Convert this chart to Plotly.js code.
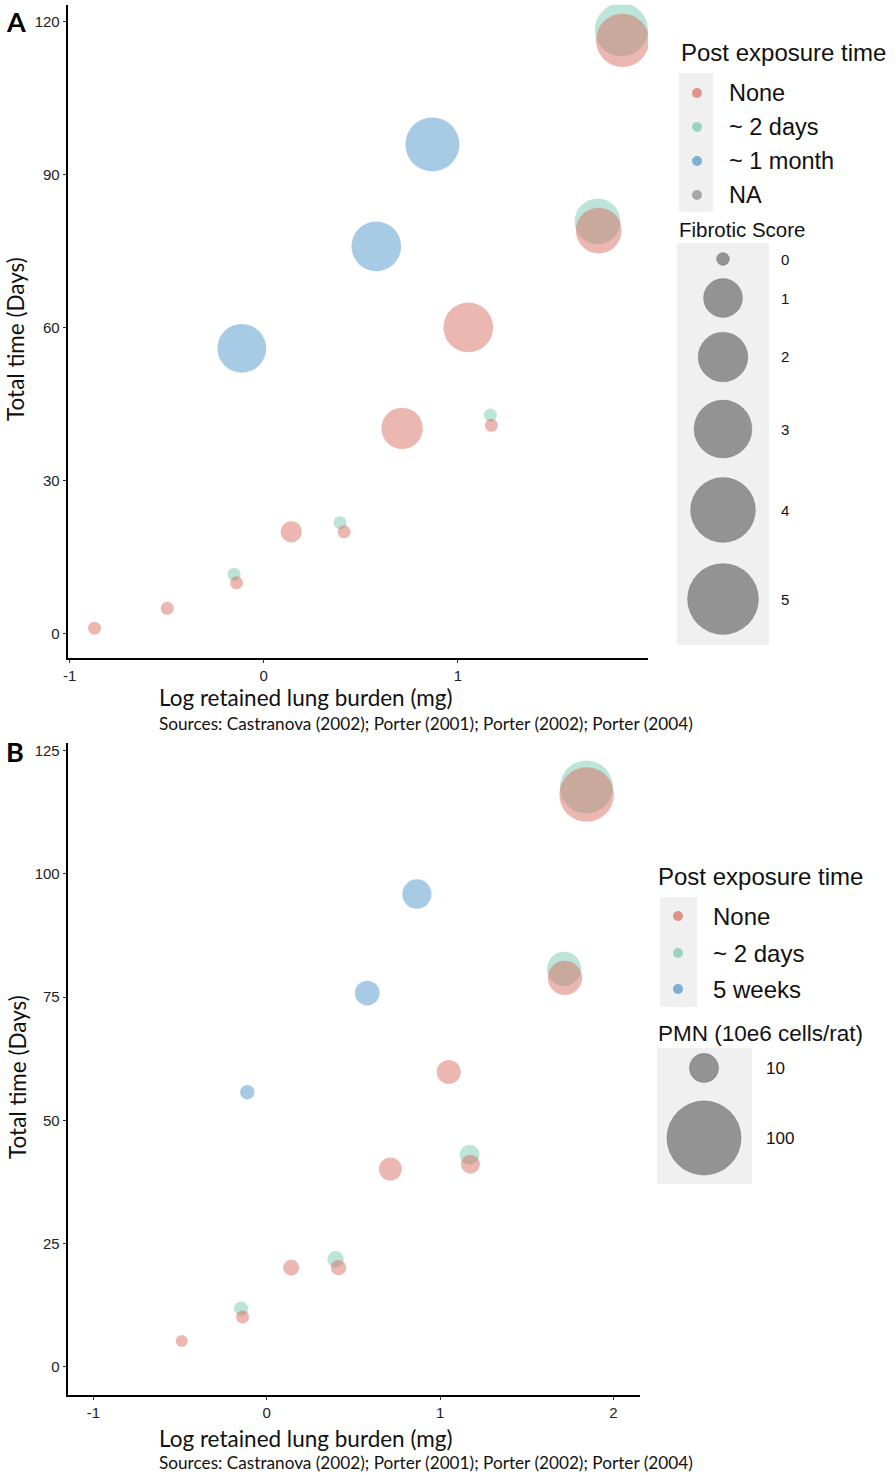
<!DOCTYPE html>
<html>
<head>
<meta charset="utf-8">
<script src="https://cdn.plot.ly/plotly-3.0.1.min.js"></script>
<style>html,body{margin:0;padding:0;background:#fff;}#chart{width:896px;height:1475px;}</style>
</head>
<body>
<div id="chart"></div>
<script>
// ---------- Data ----------
// Panel A: fibrotic score
const catsA = ["None", "~ 2 days", "~ 1 month", "NA"];
const noneA_x = [-0.872, -0.497, -0.14, 0.142, 0.414, 0.713, 1.173, 1.054, 1.726, 1.849];
const noneA_y = [1.0, 4.9, 9.9, 19.9, 19.9, 40.2, 40.8, 60.0, 79.0, 116.3];
const noneA_score = [0, 0, 0, 0.1, 0, 1.2, 0, 2.0, 1.6, 2.4];
const twoDaysA_x = [-0.153, 0.393, 1.168, 1.72, 1.843];
const twoDaysA_y = [11.6, 21.7, 42.8, 80.8, 118.4];
const twoDaysA_score = [0, 0, 0, 1.6, 2.4];
const monthA_x = [-0.113, 0.58, 0.869];
const monthA_y = [55.9, 75.9, 95.9];
const monthA_score = [1.9, 2.0, 2.5];
const fibBreaks = [0, 1, 2, 3, 4, 5];

// Panel B: PMN (10e6 cells/rat)
const catsB = ["None", "~ 2 days", "5 weeks"];
const noneB_x = [-0.49, -0.139, 0.141, 0.414, 0.713, 1.175, 1.05, 1.72, 1.845];
const noneB_y = [5.2, 10.1, 20.1, 20.1, 40.1, 41.1, 59.8, 78.9, 116.1];
const noneB_pmn = [0.28, 0.49, 1.3, 1.07, 4.86, 2.55, 5.55, 15.4, 48.9];
const twoDaysB_x = [-0.148, 0.397, 1.17, 1.715, 1.844];
const twoDaysB_y = [11.8, 21.8, 43.0, 80.7, 117.6];
const twoDaysB_pmn = [0.78, 1.48, 3.05, 15.3, 45.7];
const weeksB_x = [-0.112, 0.58, 0.866];
const weeksB_y = [55.7, 75.8, 95.9];
const weeksB_pmn = [0.83, 6.06, 10.0];
const pmnBreaks = [10, 100];

const ticksAx = [-1, 0, 1];
const ticksAy = [0, 30, 60, 90, 120];
const ticksBx = [-1, 0, 1, 2];
const ticksBy = [0, 25, 50, 75, 100, 125];

const xTitle = "Log retained lung burden (mg)";
const yTitle = "Total time (Days)";
const caption = "Sources: Castranova (2002); Porter (2001); Porter (2002); Porter (2004)";

// ---------- Styles / scales ----------
const W = 896, H = 1475;
const COL = {
  "None": "rgba(214,104,88,0.68)",
  "~ 2 days": "rgba(102,194,165,0.62)",
  "~ 1 month": "rgba(72,146,200,0.68)",
  "5 weeks": "rgba(72,146,200,0.68)",
  "NA": "rgba(127,127,127,0.65)"
};
const NARROW = '"Liberation Sans Narrow", "Arial Narrow", "Liberation Sans", sans-serif';
const CAL = 'Lato, "Open Sans", sans-serif';
const ARIAL = '"Liberation Sans", Arial, sans-serif';

const fibSize = s => 13 + 58 * Math.sqrt(s / 5);
const pmnSize = v => 8.5 + 6.58 * Math.sqrt(v);

const px = x => x / W;
const py = y => 1 - y / H;

function pts(x, y, sizes, color, xa, ya) {
  return {
    type: "scatter", mode: "markers", x: x, y: y, xaxis: xa, yaxis: ya,
    marker: { size: sizes, sizemode: "diameter", color: color, line: { width: 0 } },
    showlegend: false, hoverinfo: "x+y"
  };
}

const traces = [
  pts(twoDaysA_x, twoDaysA_y, twoDaysA_score.map(fibSize), COL["~ 2 days"], "x", "y"),
  pts(monthA_x, monthA_y, monthA_score.map(fibSize), COL["~ 1 month"], "x", "y"),
  pts(noneA_x, noneA_y, noneA_score.map(fibSize), COL["None"], "x", "y"),
  pts(twoDaysB_x, twoDaysB_y, twoDaysB_pmn.map(pmnSize), COL["~ 2 days"], "x2", "y2"),
  pts(weeksB_x, weeksB_y, weeksB_pmn.map(pmnSize), COL["5 weeks"], "x2", "y2"),
  pts(noneB_x, noneB_y, noneB_pmn.map(pmnSize), COL["None"], "x2", "y2")
];

// ---------- Legends (drawn on a hidden pixel-space axis) ----------
const legA_rows = [93, 127, 161, 195];
const legA_sizeRows = [259, 298, 357, 429, 510, 599];
const legB_rows = [916, 953, 989];
const legB_sizeRows = [1068, 1138];

traces.push({
  type: "scatter", mode: "markers", xaxis: "x3", yaxis: "y3", hoverinfo: "skip", showlegend: false,
  x: catsA.map(() => 697), y: legA_rows,
  marker: { size: 10, color: catsA.map(c => COL[c]), line: { width: 0 } }
});
traces.push({
  type: "scatter", mode: "markers", xaxis: "x3", yaxis: "y3", hoverinfo: "skip", showlegend: false,
  x: fibBreaks.map(() => 723), y: legA_sizeRows,
  marker: { size: fibBreaks.map(fibSize), color: "rgba(0,0,0,0.55)", line: { width: 0.6, color: "rgba(0,0,0,0.35)" } }
});
traces.push({
  type: "scatter", mode: "markers", xaxis: "x3", yaxis: "y3", hoverinfo: "skip", showlegend: false,
  x: catsB.map(() => 678), y: legB_rows,
  marker: { size: 10, color: catsB.map(c => COL[c]), line: { width: 0 } }
});
traces.push({
  type: "scatter", mode: "markers", xaxis: "x3", yaxis: "y3", hoverinfo: "skip", showlegend: false,
  x: pmnBreaks.map(() => 704), y: legB_sizeRows,
  marker: { size: pmnBreaks.map(pmnSize), color: "rgba(0,0,0,0.55)", line: { width: 0.6, color: "rgba(0,0,0,0.35)" } }
});

const KEYBG = "#F0F0F0";
function rect(x0, y0, x1, y1) {
  return { type: "rect", xref: "paper", yref: "paper", x0: px(x0), x1: px(x1), y0: py(y1), y1: py(y0),
           fillcolor: KEYBG, line: { width: 0 }, layer: "below" };
}
const shapes = [
  rect(679, 73, 713, 212),
  rect(677, 243, 769, 645),
  rect(660, 897, 697, 1007),
  rect(657, 1048, 752, 1184)
];

function ann(text, x, y, size, family, opts) {
  return Object.assign({
    text: text, x: px(x), y: py(y), xref: "paper", yref: "paper", showarrow: false,
    xanchor: "left", yanchor: "middle", font: { size: size, family: family, color: "#111" }
  }, opts || {});
}

const annotations = [
  ann("<b>A</b>", 4, 22, 27, CAL, { font: { size: 27, family: CAL, color: "#000" } }),
  ann("<b>B</b>", 4, 751, 27, CAL, { font: { size: 27, family: CAL, color: "#000" } }),
  ann(yTitle, 15, 339, 22.5, CAL, { textangle: -90, xanchor: "center" }),
  ann(yTitle, 17, 1077, 22.5, CAL, { textangle: -90, xanchor: "center" }),
  ann(xTitle, 157, 697, 22.5, CAL),
  ann(xTitle, 157, 1438, 22.5, CAL),
  ann(caption, 157, 723, 17.2, CAL),
  ann(caption, 157, 1462, 17.2, CAL),
  ann("Post exposure time", 679, 53, 24, ARIAL),
  ann("Fibrotic Score", 677, 229, 20.5, ARIAL),
  ann("Post exposure time", 656, 877, 24, ARIAL),
  ann("PMN (10e6 cells/rat)", 656, 1033, 22.5, ARIAL)
];
catsA.forEach((c, i) => annotations.push(ann(c, 727, legA_rows[i], 23.5, ARIAL)));
fibBreaks.forEach((b, i) => annotations.push(ann(String(b), 779, legA_sizeRows[i], 15, ARIAL)));
catsB.forEach((c, i) => annotations.push(ann(c, 711, legB_rows[i], 24, ARIAL)));
pmnBreaks.forEach((b, i) => annotations.push(ann(String(b), 764, legB_sizeRows[i], 17, ARIAL)));

const axBase = {
  showgrid: false, zeroline: false, showline: true, linecolor: "#000", linewidth: 1.8,
  ticks: "outside", ticklen: 3, tickwidth: 1, tickcolor: "#333",
  tickfont: { family: NARROW, size: 15, color: "#222" }, fixedrange: true
};

const layout = {
  width: W, height: H, margin: { l: 0, r: 0, t: 0, b: 0, pad: 0 },
  paper_bgcolor: "#fff", plot_bgcolor: "rgba(0,0,0,0)", showlegend: false,
  xaxis: Object.assign({}, axBase, { domain: [px(67.5), px(648)], range: [-1.011, 1.98], tickvals: ticksAx, ticktext: ticksAx.map(String), anchor: "y" }),
  yaxis: Object.assign({}, axBase, { domain: [py(658.3), py(4.7)], range: [-4.9, 123.3], tickvals: ticksAy, ticktext: ticksAy.map(String), anchor: "x" }),
  xaxis2: Object.assign({}, axBase, { domain: [px(67.5), px(640)], range: [-1.149, 2.153], tickvals: ticksBx, ticktext: ticksBx.map(String), anchor: "y2" }),
  yaxis2: Object.assign({}, axBase, { domain: [py(1395), py(742.7)], range: [-5.74, 126.6], tickvals: ticksBy, ticktext: ticksBy.map(String), anchor: "x2" }),
  xaxis3: { domain: [0, 1], range: [0, W], visible: false, fixedrange: true, anchor: "y3" },
  yaxis3: { domain: [0, 1], range: [H, 0], visible: false, fixedrange: true, anchor: "x3" },
  shapes: shapes, annotations: annotations
};

Plotly.newPlot("chart", traces, layout, { staticPlot: true, displayModeBar: false });
</script>
</body>
</html>
